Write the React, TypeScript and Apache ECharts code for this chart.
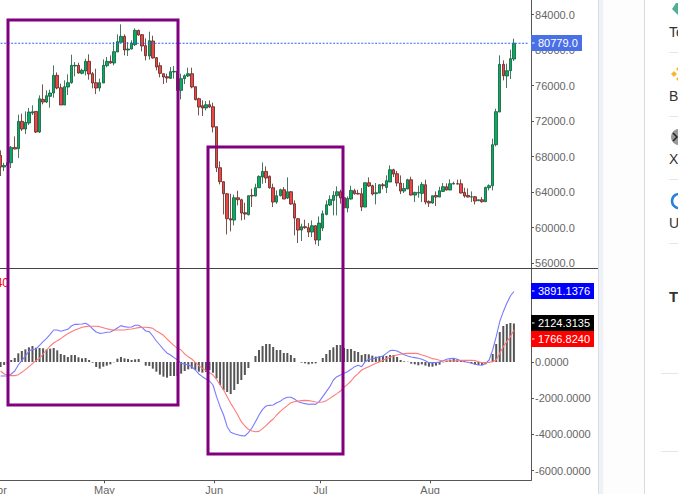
import React, { useEffect, useRef } from "react";
import * as echarts from "echarts";

// [open, close, low, high] for each daily candle
const candles: number[][] = [
[68136,66820,65805,68700],[66820,67008,66369,67309],[67008,67309,66820,67572],[67309,69038,66707,69189],[69038,68850,68850,70279],
[68888,71971,67835,72723],[71971,71106,70881,72836],[71106,71858,70542,73099],[71783,73024,71558,73475],[72911,73062,72686,73776],
[73099,70768,70655,73099],[70768,74528,70655,74904],[74453,74152,73889,76145],[74152,74866,74039,75468],[74791,75167,73513,75543],
[75167,77160,74641,78288],[77160,75731,75581,77498],[75769,73814,73814,76220],[73814,75882,73814,76596],[75844,76333,74942,77273],
[76333,78288,76220,79491],[78213,78288,77047,78664],[78288,77423,77348,78589],[77386,77724,77273,77912],[77649,78739,77160,79040],
[78739,77310,76671,79529],[77348,76295,75694,77536],[76333,75731,75054,77912],[75731,76333,75355,76784],[76295,78288,76295,78965],
[78250,78739,78062,79228],[78739,78551,78476,79416],[78551,79830,78288,80920],[79792,80958,79792,81785],[80882,81559,80882,82913],
[81559,80018,79416,81785],[80018,80130,79341,80920],[80130,80807,80093,81108],[80619,82236,80469,82462],[82236,81710,81634,82311],
[81747,80469,79867,81822],[80506,79378,78852,81334],[79341,81070,78927,82086],[81033,79115,79040,81634],[79153,78100,77724,79228],
[78250,77386,76934,78626],[77348,76972,76182,77348],[77010,76859,76333,77348],[76822,77574,76746,78100],[77536,77611,76784,78213],
[77611,75468,75280,77837],[75468,76784,74453,77348],[76784,77122,76182,77273],[77085,77348,76972,78025],[77348,75844,75694,78025],
[75882,74415,74340,75919],[74528,73588,72648,74641],[73738,73475,72573,74340],[73475,73851,73212,74265],[73851,73588,73475,74340],
[73626,71332,70730,74077],[71370,66745,66256,71370],[66745,65166,64865,67459],[65166,63812,61481,65241],[63812,60992,59225,63887],
[60992,60842,59563,63812],[60842,63361,60240,63699],[63361,63135,62496,64150],[63135,61631,60804,63248],[61669,61518,60879,62797],
[61443,63586,61368,63624],[63624,63549,62308,64376],[63549,64489,63511,64940],[64489,65767,64489,65880],[65692,66331,64940,67346],
[66331,65579,65015,66895],[65767,64489,64376,65880],[64489,62872,62308,64940],[62872,63586,62684,64188],[63586,64263,63511,64376],
[64263,63210,63210,64564],[63323,64038,63210,65654],[64038,62646,62571,64113],[62684,61067,59112,63060],[60992,59714,58247,61067],
[59714,60090,58473,60428],[60090,59977,59864,60879],[59977,59488,58924,60503],[59488,60202,58924,60804],[60202,58586,58097,60278],
[58586,60503,57909,61255],[59939,61556,59601,61932],[61481,62571,61368,63060],[62534,63173,62421,63624],[63060,63624,61368,64113],
[63586,64038,61368,64639],[64038,63323,62684,64263],[63361,62233,61631,63436],[62195,63286,61706,63511],[63210,64188,63135,64714],
[64150,63812,63699,64376],[63850,63774,63737,64263],[63812,62308,61857,64451],[62308,65053,62308,65053],[65053,64677,64564,65654],
[64714,63774,63624,64827],[63812,63925,62609,65015],[63887,64827,63887,64865],[64827,64714,64301,65015],[64526,65278,63887,65880],
[65128,66519,65128,67008],[66519,66030,65692,66632],[66068,65015,64639,66369],[65015,64113,63774,65880],[64113,64414,63887,65015],
[64338,65391,64338,65504],[65391,63662,63624,65730],[63662,63962,62872,64038],[63887,63962,63361,64714],[63850,64865,62872,65128],
[64827,62872,62609,65391],[62947,62759,62308,63060],[62759,63586,62684,63586],[63624,63436,62421,64075],[63436,64150,63436,64602],
[64075,64602,64000,65015],[64602,64226,64188,64978],[64226,64940,64226,65429],[64902,64978,64865,65166],[64940,64902,64865,65391],
[64940,63887,63850,65429],[63962,63549,63361,64489],[63624,63436,63398,64414],[63436,63474,62872,64075],[63474,62985,62609,63549],
[63022,63135,62985,63135],[63135,62910,62797,63436],[62910,64526,62910,64602],[64489,64714,64188,64865],[64714,69339,64188,70016],
[69339,73062,69151,73400],[73024,78401,73024,79416],[78401,77122,76596,78852],[77085,77686,75731,78476],[77686,79040,76746,80055],
[79002,80779,78777,81296],
];

const histogram: number[] = [
-276,-166,-92,110,221,478,607,699,810,883,791,773,754,699,736,773,644,442,386,276,386,386,258,202,221,110,-37,-276,-368,-258,-202,-129,-18,184,276,202,166,110,147,166,0,-202,-221,-368,-534,-699,-810,-865,-773,-773,-773,
-644,-497,-405,-368,-442,-534,-589,-552,-442,-589,-902,-1270,-1546,-1656,-1766,-1546,-1214,-994,-718,-331,0,331,662,883,994,994,828,662,662,497,497,386,221,0,-37,-74,-129,-92,-74,0,221,442,662,810,938,938,773,718,718,607,552,
386,442,423,350,294,313,331,331,386,386,276,110,37,18,-92,-129,-184,-129,-202,-258,-258,-202,-147,-18,74,129,166,147,110,55,-18,-74,-129,-166,-166,-129,-37,442,994,1656,1987,2098,2153,2124.3135,
];

const dif: number[] = [
-773,-773,-773,-662,-497,-166,74,331,589,699,718,920,1122,1306,1527,1766,1766,1693,1748,1803,1987,2079,2079,2098,2134,2024,1822,1656,1582,1601,1638,1656,1748,1877,2006,1950,1914,1932,2024,2024,1895,1711,1674,1435,1159,938,699,497,386,239,110,
-74,-129,-147,-258,-442,-662,-810,-938,-1049,-1270,-1914,-2466,-2926,-3570,-3882,-3956,-4011,-4066,-4085,-3901,-3643,-3294,-2926,-2613,-2429,-2392,-2374,-2245,-2171,-2024,-1950,-1950,-2042,-2190,-2245,-2300,-2337,-2318,-2337,-2190,-1914,-1638,-1362,-994,-810,-718,-626,-534,-405,-258,-184,
-258,18,147,166,221,294,331,478,626,644,607,515,405,331,276,239,202,147,74,-37,-37,-37,0,74,147,184,202,147,74,18,-18,-74,-129,-166,-184,-74,110,662,1398,2226,2778,3238,3643,3891.1376,
];

const dea: number[] = [
-497,-662,-736,-754,-754,-699,-570,-423,-258,-92,74,202,442,662,883,1049,1178,1288,1435,1564,1674,1766,1840,1914,1950,1969,1969,1969,1950,1895,1840,1785,1766,1766,1766,1766,1803,1822,1858,1895,1914,1914,1895,1858,1711,1601,1472,1270,1086,902,754,
662,442,294,166,-18,-202,-350,-478,-589,-718,-957,-1270,-1546,-1914,-2282,-2594,-2926,-3294,-3533,-3717,-3809,-3846,-3827,-3680,-3514,-3312,-3146,-2926,-2723,-2558,-2410,-2245,-2190,-2153,-2134,-2116,-2134,-2171,-2208,-2226,-2208,-2134,-2006,-1877,-1748,-1601,-1398,-1233,-1049,-810,-644,
-442,-350,-258,-166,-74,0,92,184,258,331,386,423,460,478,478,478,460,386,331,258,184,147,92,55,55,55,55,74,92,92,92,92,74,18,-37,-37,-18,18,110,478,846,1122,1398,1766.824,
];

const priceTicks = [56000, 60000, 64000, 68000, 72000, 76000, 80000, 84000];
const macdTicks = [-6000, -4000, -2000, 0];
const lastPrice = 80779.0;
const lastDif = 3891.1376;
const lastHist = 2124.3135;
const lastDea = 1766.824;
const monthStarts: [number, string][] = [[1, "Apr"], [31, "May"], [62, "Jun"], [92, "Jul"], [123, "Aug"]];
const sideLabels: [string, number][] = [["Te", 32], ["Bl", 96], ["X", 159], ["U", 223]];

const dayCount = 150;
const days = Array.from({ length: dayCount }, (_, i) => String(i));
const priceLine = days.map(() => lastPrice);
const axisDays = Array.from({ length: dayCount + 2 }, (_, i) => {
  const m = monthStarts.find((s) => s[0] === i);
  return m ? m[1] : "";
});

const FONT = "'Liberation Sans', Arial, sans-serif";
const AXIS = "#555555";
const LABEL = "#666666";

function tag(text: string, top: number, width: number, fill: string) {
  return [
    { type: "rect", z: 110, shape: { x: 531, y: top, width, height: 16 }, style: { fill } },
    { type: "line", z: 111, shape: { x1: 532, y1: top + 8, x2: 534.5, y2: top + 8 }, style: { stroke: "#fff", lineWidth: 1 } },
    {
      type: "text", z: 112, x: 538, y: top + 8,
      style: { text, fill: "#fff", font: `11px ${FONT}`, textAlign: "left", textVerticalAlign: "middle" },
    },
  ];
}

function box(x: number, y: number, width: number, height: number) {
  return {
    type: "rect", z: 100, silent: true,
    shape: { x, y, width, height },
    style: { fill: "none", stroke: "#800080", lineWidth: 3 },
  };
}

export default function App() {
  const ref = useRef<HTMLDivElement>(null);
  useEffect(() => {
    const chart = echarts.init(ref.current!, undefined, { renderer: "svg" });
    const option: any = {
      animation: false,
      backgroundColor: "#ffffff",
      textStyle: { fontFamily: FONT },
      grid: [
        { left: -1.17, width: 531, top: 0, height: 268, outerBoundsMode: "none" },
        { left: -1.17, width: 531, top: 268, height: 212.3, outerBoundsMode: "none" },
        { left: -7.05, width: 538.08, top: 268, height: 212.3, outerBoundsMode: "none" },
      ],
      xAxis: [
        { type: "category", gridIndex: 0, data: days, show: false, boundaryGap: [0, 0] },
        { type: "category", gridIndex: 1, data: days, show: false },
        {
          type: "category", gridIndex: 2, data: axisDays, position: "bottom",
          axisLine: { show: true, onZero: false, lineStyle: { color: AXIS, width: 1 } },
          axisTick: { show: true, alignWithLabel: true, length: 3, lineStyle: { color: AXIS }, interval: (_: number, v: string) => v !== "" },
          axisLabel: { show: true, color: LABEL, fontSize: 11, fontFamily: FONT, margin: 4, hideOverlap: false, interval: (_: number, v: string) => v !== "" },
        },
      ],
      yAxis: [
        {
          type: "value", gridIndex: 0, position: "right", offset: 1.2, min: 55436, max: 85658,
          splitLine: { show: false },
          axisLine: { show: true, lineStyle: { color: AXIS, width: 1 } },
          axisTick: { show: true, length: 3, lineStyle: { color: AXIS }, customValues: priceTicks },
          axisLabel: { color: LABEL, fontSize: 11, fontFamily: FONT, margin: 4, customValues: priceTicks, formatter: (v: number) => v.toFixed(1) },
        },
        {
          type: "value", gridIndex: 1, position: "right", offset: 1.2, min: -6530, max: 5188,
          splitLine: { show: false },
          axisLine: { show: true, lineStyle: { color: AXIS, width: 1 } },
          axisTick: { show: true, length: 3, lineStyle: { color: AXIS }, customValues: macdTicks },
          axisLabel: { color: LABEL, fontSize: 11, fontFamily: FONT, margin: 4, customValues: macdTicks, formatter: (v: number) => v.toFixed(4) },
        },
        { type: "value", gridIndex: 2, min: 0, max: 1, show: false },
      ],
      series: [
        {
          type: "candlestick", xAxisIndex: 0, yAxisIndex: 0, data: candles, barWidth: 3,
          itemStyle: { color: "#00b060", color0: "#f04545", borderColor: "#14583a", borderColor0: "#5c2420", borderWidth: 0.8 },
        },
        {
          type: "line", xAxisIndex: 0, yAxisIndex: 0, data: priceLine, showSymbol: false, silent: true, z: 5,
          itemStyle: { color: "#2e62f0" },
          lineStyle: { color: "#2e62f0", width: 1, type: [2, 1.5] },
        },
        {
          type: "bar", xAxisIndex: 1, yAxisIndex: 1, data: histogram, barWidth: 2, itemStyle: { color: "#555555" }, silent: true,
        },
        { type: "line", xAxisIndex: 1, yAxisIndex: 1, data: dif, showSymbol: false, smooth: false, itemStyle: { color: "#7a7aff" }, lineStyle: { color: "#7a7aff", width: 1.1 }, silent: true },
        { type: "line", xAxisIndex: 1, yAxisIndex: 1, data: dea, showSymbol: false, smooth: false, itemStyle: { color: "#ff7a7a" }, lineStyle: { color: "#ff7a7a", width: 1.1 }, silent: true },
      ],
      graphic: [
        { type: "rect", z: 1, shape: { x: 598, y: 0, width: 5.5, height: 494 }, style: { fill: "#eef1f6" } },
        { type: "rect", z: 1, shape: { x: 603.5, y: 0, width: 41, height: 494 }, style: { fill: "#fdfdfd" } },
        { type: "line", z: 2, shape: { x1: 598.5, y1: 0, x2: 598.5, y2: 494 }, style: { stroke: "#d9dee4", lineWidth: 1 } },
        { type: "line", z: 2, shape: { x1: 644.5, y1: 0, x2: 644.5, y2: 494 }, style: { stroke: "#d8dcdc", lineWidth: 1 } },
        { type: "line", z: 90, shape: { x1: 0, y1: 268.5, x2: 598, y2: 268.5 }, style: { stroke: "#444444", lineWidth: 1 } },
        box(8, 20, 170, 385),
        box(208, 147, 135, 307),
        {
          type: "text", z: 95, x: 9, y: 283,
          style: { text: "40", fill: "#ff0000", font: `12px ${FONT}`, textAlign: "right", textVerticalAlign: "middle" },
        },
        ...tag(lastPrice.toFixed(1), 35, 51, "#4a70e6"),
        ...tag(lastDif.toFixed(4), 283, 63, "#0000ff"),
        ...tag(lastHist.toFixed(4), 315, 63, "#000000"),
        ...tag(lastDea.toFixed(4), 331, 63, "#ff0000"),
        ...sideLabels.map(([text, y]) => ({
          type: "text", z: 5, x: 669, y,
          style: { text, fill: "#333333", font: `14px ${FONT}`, textAlign: "left", textVerticalAlign: "middle" },
        })),
        { type: "text", z: 5, x: 669, y: 296, style: { text: "T", fill: "#333333", font: `bold 15px ${FONT}`, textAlign: "left", textVerticalAlign: "middle" } },
        ...[52, 116, 179, 243].map((y) => ({ type: "line", z: 5, shape: { x1: 669, y1: y + 0.5, x2: 678, y2: y + 0.5 }, style: { stroke: "#e6e6e6", lineWidth: 1 } })),
        ...[373, 451].map((y) => ({ type: "line", z: 5, shape: { x1: 661, y1: y + 0.5, x2: 678, y2: y + 0.5 }, style: { stroke: "#e6e6e6", lineWidth: 1 } })),
        { type: "polygon", z: 5, shape: { points: [[672, 9], [676, 3], [684, 3], [684, 15], [678, 15]] }, style: { fill: "#50af95" } },
        { type: "polygon", z: 5, shape: { points: [[671, 74], [674, 71], [677, 74], [674, 77]] }, style: { fill: "#f3ba2f" } },
        { type: "polygon", z: 5, shape: { points: [[676, 69], [680, 65], [684, 69], [680, 73]] }, style: { fill: "#f3ba2f" } },
        { type: "polygon", z: 5, shape: { points: [[676, 79], [680, 75], [684, 79], [680, 83]] }, style: { fill: "#f3ba2f" } },
        { type: "circle", z: 5, shape: { cx: 679, cy: 137, r: 8 }, style: { fill: "#9a9a9a" } },
        { type: "polyline", z: 6, shape: { points: [[673, 133], [677, 137], [673, 141]] }, style: { stroke: "#222222", fill: "none", lineWidth: 1.5 } },
        { type: "circle", z: 5, shape: { cx: 679, cy: 201, r: 7 }, style: { fill: "#ffffff", stroke: "#2a7fe0", lineWidth: 2.5 } },
      ],
    };
    chart.setOption(option);
    return () => chart.dispose();
  }, []);
  return <div ref={ref} style={{ position: "absolute", left: 0, top: 0, width: 678, height: 494 }} />;
}
